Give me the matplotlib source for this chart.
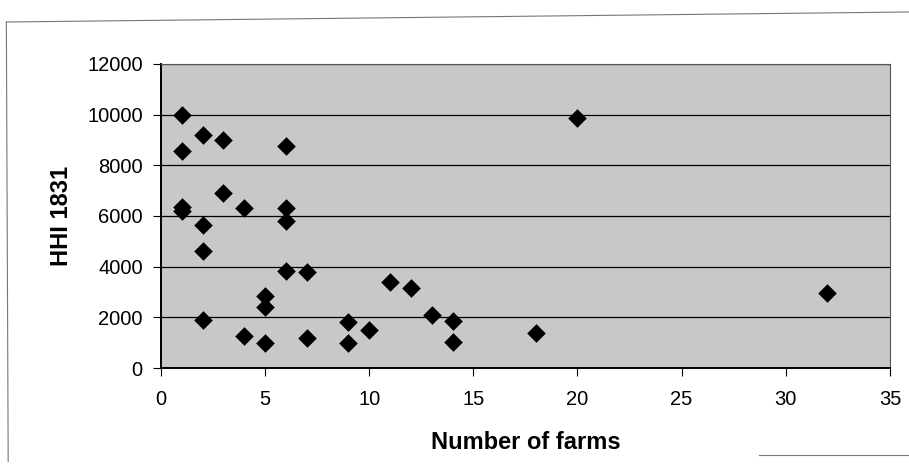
import matplotlib.pyplot as plt
from matplotlib.lines import Line2D

# farms per parish vs. Herfindahl index in 1831
farms = [1, 1, 1, 1, 2, 2, 2, 2, 3, 3, 4, 4, 5, 5, 5,
         6, 6, 6, 6, 7, 7, 9, 9, 10, 11, 12, 13, 14, 14, 18, 20, 32]
hhi = [10000, 8550, 6350, 6200, 9200, 5650, 4600, 1900, 9000, 6900, 6300, 1270,
       2850, 2400, 1000, 8750, 6330, 5800, 3850, 3780, 1170, 1800, 1000, 1500,
       3400, 3150, 2100, 1850, 1050, 1400, 9850, 2950]

x_ticks = [0, 5, 10, 15, 20, 25, 30, 35]
y_ticks = [0, 2000, 4000, 6000, 8000, 10000, 12000]

plt.rcParams['font.family'] = ['Liberation Sans', 'DejaVu Sans']

fig = plt.figure(figsize=(9.09, 4.66), dpi=100)
ax = fig.add_axes([0.177, 0.21, 0.802, 0.653])
ax.set_facecolor('#c8c8c8')

ax.scatter(farms, hhi, marker='D', s=90, color='black', zorder=3, linewidths=0)

ax.set_xlim(0, 35)
ax.set_ylim(0, 12000)
ax.set_xticks(x_ticks)
ax.set_yticks(y_ticks)
ax.tick_params(axis='both', labelsize=14.5, direction='out', length=6, width=0.8, pad=7)
ax.tick_params(axis='x', pad=10)

ax.grid(axis='y', color='black', linewidth=0.9)
ax.set_axisbelow(True)

for side in ['left', 'bottom']:
    ax.spines[side].set_linewidth(1.4)
for side in ['top', 'right']:
    ax.spines[side].set_color('#555555')
    ax.spines[side].set_linewidth(0.8)

ax.set_xlabel('Number of farms', fontsize=17, fontweight='bold')
ax.set_ylabel('HHI 1831', fontsize=17, fontweight='bold')
ax.xaxis.set_label_coords(0.5, -0.205)
ax.yaxis.set_label_coords(-0.12, 0.5)

# outer chart frame
frame = dict(color='#777777', linewidth=0.8, transform=fig.transFigure)
fig.add_artist(Line2D([0.007, 1.0], [1 - 22 / 466, 1 - 12 / 466], **frame))
fig.add_artist(Line2D([0.007, 0.009], [1 - 22 / 466, 0.01], **frame))
fig.add_artist(Line2D([0.835, 1.0], [1 - 455 / 466, 1 - 455 / 466], **frame))

fig.savefig('out.png', dpi=100)
